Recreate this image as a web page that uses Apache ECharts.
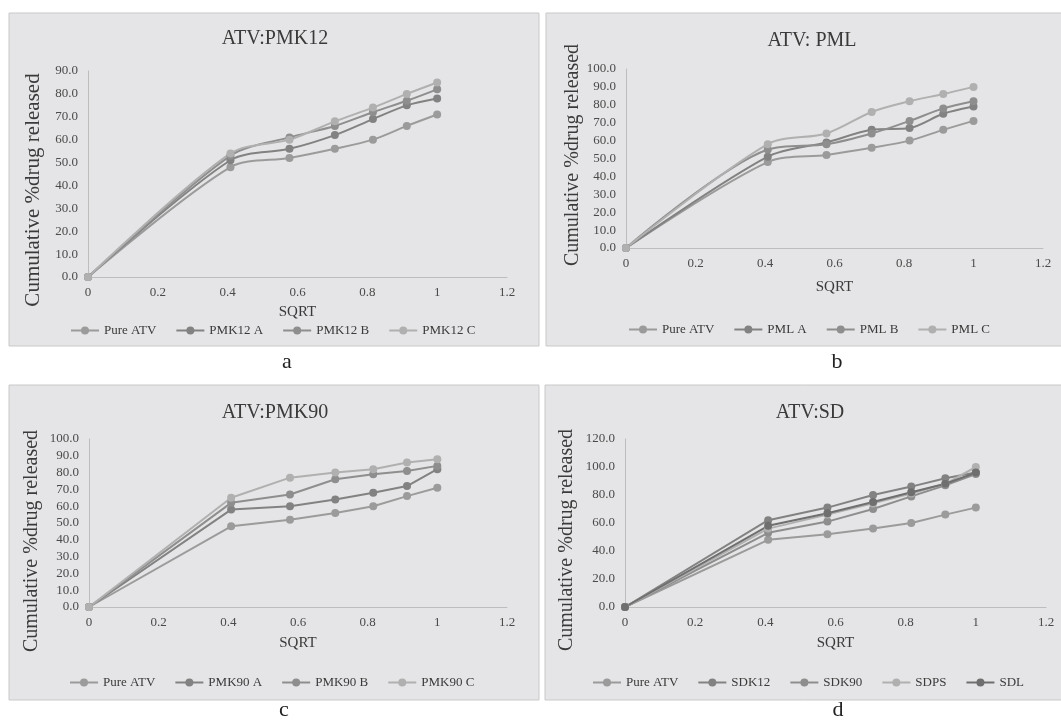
<!DOCTYPE html>
<html>
<head>
<meta charset="utf-8">
<script src="https://cdn.jsdelivr.net/npm/echarts@6/dist/echarts.min.js"></script>
<style>
html,body{margin:0;padding:0;background:#fff;}
#chart{width:1061px;height:721px;}
</style>
</head>
<body>
<div id="chart"></div>
<script>
// ---- data ----
const sqrtTime = [0, 0.408, 0.577, 0.707, 0.816, 0.913, 1];

const pureATV = [0, 48, 52, 56, 60, 66, 71];

// panel a: ATV:PMK12
const pmk12A = [0, 51, 56, 62, 69, 75, 78];
const pmk12B = [0, 53, 61, 66, 72, 77, 82];
const pmk12C = [0, 54, 60, 68, 74, 80, 85];

// panel b: ATV: PML
const pmlA = [0, 51, 59, 66, 67, 75, 79];
const pmlB = [0, 55, 58, 64, 71, 78, 82];
const pmlC = [0, 58, 64, 76, 82, 86, 90];

// panel c: ATV:PMK90
const pmk90A = [0, 58, 60, 64, 68, 72, 82];
const pmk90B = [0, 62, 67, 76, 79, 81, 84];
const pmk90C = [0, 65, 77, 80, 82, 86, 88];

// panel d: ATV:SD
const sdk12 = [0, 62, 71, 80, 86, 92, 96];
const sdk90 = [0, 53, 61, 70, 79, 87, 95];
const sdps = [0, 56, 66, 74, 81, 88, 100];
const sdl = [0, 58, 67, 75, 82, 88, 96];

const panelTitles = ['ATV:PMK12', 'ATV: PML', 'ATV:PMK90', 'ATV:SD'];
const panelLetters = ['a', 'b', 'c', 'd'];
const yMax = [90, 100, 100, 120];
const yStep = [10, 10, 10, 20];
const xTicks = [0, 0.2, 0.4, 0.6, 0.8, 1, 1.2];

const yName = 'Cumulative %drug released';
const xName = 'SQRT';

// ---- styling ----
const FONT = '"Liberation Serif", "DejaVu Serif", serif';
const C_PURE = '#9b9b9b';
const C_A = '#828282';
const C_B = '#8e8e8e';
const C_C = '#b0b0b0';
const C_DARK = '#6f6f6f';

const panels = [
  { grid: {left: 88, top: 71, width: 419, height: 206}, smooth: true,
    series: [['Pure ATV', pureATV, C_PURE], ['PMK12 A', pmk12A, C_A], ['PMK12 B', pmk12B, C_B], ['PMK12 C', pmk12C, C_C]],
    title: {x: 270, y: 24}, legendTop: 319, legendCx: 273, nameGap: 28,
    yLabel: {x: 33, y: 190, size: 21}, letter: {x: 287, y: 362}, rect: {x: 9, y: 13, w: 530, h: 333} },
  { grid: {left: 626, top: 69, width: 417, height: 179}, smooth: true,
    series: [['Pure ATV', pureATV, C_PURE], ['PML A', pmlA, C_A], ['PML B', pmlB, C_B], ['PML C', pmlC, C_C]],
    title: {x: 807, y: 26}, legendTop: 318, legendCx: 809, nameGap: 32,
    yLabel: {x: 573, y: 155, size: 20}, letter: {x: 837, y: 362}, rect: {x: 546, y: 13, w: 530, h: 333} },
  { grid: {left: 89, top: 439, width: 418, height: 168}, smooth: false,
    series: [['Pure ATV', pureATV, C_PURE], ['PMK90 A', pmk90A, C_A], ['PMK90 B', pmk90B, C_B], ['PMK90 C', pmk90C, C_C]],
    title: {x: 270, y: 398}, legendTop: 671, legendCx: 272, nameGap: 29,
    yLabel: {x: 32, y: 541, size: 20}, letter: {x: 284, y: 710}, rect: {x: 9, y: 385, w: 530, h: 315} },
  { grid: {left: 625, top: 439, width: 421, height: 168}, smooth: false,
    series: [['Pure ATV', pureATV, C_PURE], ['SDK12', sdk12, C_A], ['SDK90', sdk90, C_B], ['SDPS', sdps, C_C], ['SDL', sdl, C_DARK]],
    title: {x: 805, y: 398}, legendTop: 671, legendCx: 808, nameGap: 29,
    yLabel: {x: 567, y: 540, size: 20}, letter: {x: 838, y: 710}, rect: {x: 545, y: 385, w: 530, h: 315} }
];

const option = {
  backgroundColor: '#ffffff',
  animation: false,
  title: [], legend: [], grid: [], xAxis: [], yAxis: [], series: [], graphic: []
};

panels.forEach((p, i) => {
  option.graphic.push({
    type: 'rect', z: -10, silent: true,
    shape: {x: p.rect.x, y: p.rect.y, width: p.rect.w, height: p.rect.h},
    style: {fill: '#e5e5e7', stroke: '#c9c9c9', lineWidth: 1}
  });
  option.graphic.push({
    type: 'text', silent: true, x: p.yLabel.x, y: p.yLabel.y, rotation: Math.PI / 2,
    style: {text: yName, font: p.yLabel.size + 'px ' + FONT, fill: '#3a3a3a', align: 'center', verticalAlign: 'middle'}
  });
  option.graphic.push({
    type: 'text', silent: true, x: p.letter.x, y: p.letter.y,
    style: {text: panelLetters[i], font: '22px ' + FONT, fill: '#222', align: 'center', verticalAlign: 'middle'}
  });
  option.title.push({
    text: panelTitles[i], left: p.title.x, top: p.title.y, textAlign: 'center',
    textStyle: {fontFamily: FONT, fontSize: 20, fontWeight: 'normal', color: '#3a3a3a'}
  });
  option.grid.push(Object.assign({containLabel: false}, p.grid));
  option.xAxis.push({
    type: 'value', gridIndex: i, min: 0, max: 1.2, interval: 0.2,
    name: xName, nameLocation: 'middle', nameGap: p.nameGap,
    nameTextStyle: {fontFamily: FONT, fontSize: 15, color: '#3a3a3a'},
    axisLine: {show: true, lineStyle: {color: '#bdbdbd', width: 1}},
    axisTick: {show: false}, splitLine: {show: false},
    axisLabel: {fontFamily: FONT, fontSize: 13, color: '#4a4a4a', margin: 9,
      formatter: v => String(Math.round(v * 10) / 10)}
  });
  option.yAxis.push({
    type: 'value', gridIndex: i, min: 0, max: yMax[i], interval: yStep[i],
    axisLine: {show: true, lineStyle: {color: '#bdbdbd', width: 1}},
    axisTick: {show: false}, splitLine: {show: false},
    axisLabel: {fontFamily: FONT, fontSize: 13, color: '#4a4a4a', margin: 10,
      formatter: v => v.toFixed(1)}
  });
  const names = [];
  p.series.forEach(([name, vals, color]) => {
    names.push(name);
    option.series.push({
      type: 'line', name: name, xAxisIndex: i, yAxisIndex: i,
      data: sqrtTime.map((x, k) => [x, vals[k]]),
      smooth: p.smooth ? 0.3 : false,
      symbol: 'circle', symbolSize: 8,
      lineStyle: {color: color, width: 2},
      itemStyle: {color: color}
    });
  });
  option.legend.push({
    data: names.map(n => ({name: n})),
    left: 0, top: p.legendTop,
    itemWidth: 28, itemHeight: 10, itemGap: 19,
    textStyle: {fontFamily: FONT, fontSize: 13, color: '#3a3a3a'},
    selectedMode: false
  });
});

const chart = echarts.init(document.getElementById('chart'), null, {renderer: 'canvas'});
chart.setOption(option);

// center each legend on its target x
const model = chart.getModel();
const newLegends = panels.map((p, i) => {
  const lv = chart.getViewOfComponentModel(model.getComponent('legend', i));
  const rect = lv.group.getBoundingRect();
  return {left: Math.round(p.legendCx - rect.width / 2)};
});
chart.setOption({legend: newLegends});
</script>
</body>
</html>
